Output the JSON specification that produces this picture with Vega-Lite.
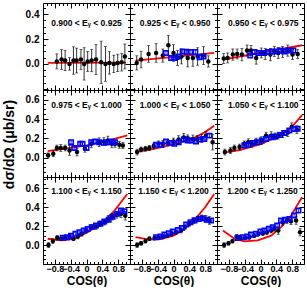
{
"$schema":"https://vega.github.io/schema/vega-lite/v6.json",
"padding":{"left":1,"top":2,"right":0,"bottom":0},
"background":"white",
"data":{"values":[
{"p":0,"s":"f","x":-0.98,"y":0.008},{"p":0,"s":"f","x":1.0,"y":0.01},
{"p":0,"s":"b","x":-0.75,"y":0.02,"e":0.06},{"p":0,"s":"b","x":-0.63,"y":0.035,"e":0.08},{"p":0,"s":"b","x":-0.54,"y":0.027,"e":0.08},{"p":0,"s":"b","x":-0.43,"y":0.0,"e":0.05},{"p":0,"s":"b","x":-0.33,"y":0.027,"e":0.11},{"p":0,"s":"b","x":-0.25,"y":0.027,"e":0.1},{"p":0,"s":"b","x":-0.14,"y":0.035,"e":0.08},{"p":0,"s":"b","x":-0.06,"y":0.0,"e":0.13},{"p":0,"s":"b","x":0.03,"y":0.02,"e":0.08},{"p":0,"s":"b","x":0.13,"y":0.027,"e":0.09},{"p":0,"s":"b","x":0.24,"y":0.035,"e":0.12},{"p":0,"s":"b","x":0.37,"y":0.013,"e":0.17},{"p":0,"s":"b","x":0.48,"y":0.0,"e":0.14},{"p":0,"s":"b","x":0.58,"y":0.008,"e":0.09},{"p":0,"s":"b","x":0.69,"y":0.0,"e":0.07},{"p":0,"s":"b","x":0.79,"y":0.008,"e":0.07},{"p":0,"s":"b","x":0.89,"y":0.013,"e":0.07},{"p":0,"s":"b","x":0.97,"y":0.06,"e":0.1},
{"p":1,"s":"f","x":-0.96,"y":0.027},{"p":1,"s":"f","x":1.03,"y":0.088},
{"p":1,"s":"b","x":-0.93,"y":0.008,"e":0.057},{"p":1,"s":"b","x":-0.82,"y":0.035,"e":0.067},{"p":1,"s":"b","x":-0.63,"y":0.08,"e":0.067},{"p":1,"s":"b","x":-0.44,"y":0.088,"e":0.075},{"p":1,"s":"b","x":-0.27,"y":0.067,"e":0.053},{"p":1,"s":"b","x":-0.13,"y":0.15,"e":0.08},{"p":1,"s":"b","x":0.0,"y":0.088,"e":0.067},{"p":1,"s":"b","x":0.1,"y":0.048,"e":0.06},{"p":1,"s":"b","x":0.2,"y":0.06,"e":0.06},{"p":1,"s":"b","x":0.36,"y":0.048,"e":0.072},{"p":1,"s":"b","x":0.49,"y":0.048,"e":0.067},{"p":1,"s":"b","x":0.61,"y":0.06,"e":0.07},{"p":1,"s":"b","x":0.76,"y":0.067,"e":0.072},{"p":1,"s":"b","x":0.88,"y":0.02,"e":0.045},
{"p":1,"s":"u","x":-0.19,"y":0.088,"e":0.015},{"p":1,"s":"u","x":-0.06,"y":0.048,"e":0.015},{"p":1,"s":"u","x":0.02,"y":0.048,"e":0.015},{"p":1,"s":"u","x":0.12,"y":0.06,"e":0.015},{"p":1,"s":"u","x":0.23,"y":0.1,"e":0.015},{"p":1,"s":"u","x":0.33,"y":0.096,"e":0.015},{"p":1,"s":"u","x":0.44,"y":0.096,"e":0.015},{"p":1,"s":"u","x":0.55,"y":0.096,"e":0.015},{"p":1,"s":"u","x":0.66,"y":0.053,"e":0.015},{"p":1,"s":"u","x":0.76,"y":0.06,"e":0.015},
{"p":2,"s":"f","x":-0.95,"y":0.035},{"p":2,"s":"f","x":1.05,"y":0.15},
{"p":2,"s":"b","x":-0.93,"y":0.043,"e":0.04},{"p":2,"s":"b","x":-0.83,"y":0.048,"e":0.04},{"p":2,"s":"b","x":-0.7,"y":0.075,"e":0.045},{"p":2,"s":"b","x":-0.59,"y":0.08,"e":0.04},{"p":2,"s":"b","x":-0.47,"y":0.075,"e":0.05},{"p":2,"s":"b","x":-0.34,"y":0.107,"e":0.045},{"p":2,"s":"b","x":-0.24,"y":0.107,"e":0.04},{"p":2,"s":"b","x":-0.11,"y":0.048,"e":0.05},{"p":2,"s":"b","x":0.02,"y":0.088,"e":0.04},{"p":2,"s":"b","x":0.12,"y":0.08,"e":0.045},{"p":2,"s":"b","x":0.25,"y":0.075,"e":0.05},{"p":2,"s":"b","x":0.35,"y":0.1,"e":0.04},{"p":2,"s":"b","x":0.45,"y":0.088,"e":0.045},{"p":2,"s":"b","x":0.56,"y":0.096,"e":0.045},{"p":2,"s":"b","x":0.69,"y":0.107,"e":0.045},{"p":2,"s":"b","x":0.81,"y":0.075,"e":0.04},{"p":2,"s":"b","x":0.94,"y":0.08,"e":0.035},
{"p":2,"s":"u","x":-0.26,"y":0.067,"e":0.015},{"p":2,"s":"u","x":-0.15,"y":0.096,"e":0.015},{"p":2,"s":"u","x":-0.05,"y":0.088,"e":0.015},{"p":2,"s":"u","x":0.08,"y":0.088,"e":0.015},{"p":2,"s":"u","x":0.19,"y":0.096,"e":0.015},{"p":2,"s":"u","x":0.29,"y":0.1,"e":0.015},{"p":2,"s":"u","x":0.4,"y":0.1,"e":0.015},{"p":2,"s":"u","x":0.5,"y":0.107,"e":0.015},{"p":2,"s":"u","x":0.6,"y":0.1,"e":0.015},{"p":2,"s":"u","x":0.7,"y":0.107,"e":0.015},{"p":2,"s":"u","x":0.83,"y":0.107,"e":0.015},
{"p":3,"s":"f","x":-0.98,"y":0.068},{"p":3,"s":"f","x":-0.5,"y":0.095},{"p":3,"s":"f","x":0.0,"y":0.128},{"p":3,"s":"f","x":0.5,"y":0.17},{"p":3,"s":"f","x":1.03,"y":0.23},
{"p":3,"s":"b","x":-0.97,"y":0.024,"e":0.025},{"p":3,"s":"b","x":-0.84,"y":0.04,"e":0.03},{"p":3,"s":"b","x":-0.75,"y":0.1,"e":0.03},{"p":3,"s":"b","x":-0.65,"y":0.1,"e":0.035},{"p":3,"s":"b","x":-0.54,"y":0.1,"e":0.03},{"p":3,"s":"b","x":-0.43,"y":0.075,"e":0.05},{"p":3,"s":"b","x":-0.24,"y":0.058,"e":0.04},{"p":3,"s":"b","x":-0.04,"y":0.092,"e":0.035},{"p":3,"s":"b","x":0.12,"y":0.143,"e":0.04},{"p":3,"s":"b","x":0.32,"y":0.16,"e":0.045},{"p":3,"s":"b","x":0.44,"y":0.167,"e":0.04},{"p":3,"s":"b","x":0.54,"y":0.177,"e":0.045},{"p":3,"s":"b","x":0.64,"y":0.143,"e":0.04},{"p":3,"s":"b","x":0.72,"y":0.143,"e":0.035},{"p":3,"s":"b","x":0.83,"y":0.133,"e":0.035},{"p":3,"s":"b","x":0.92,"y":0.126,"e":0.03},
{"p":3,"s":"u","x":-0.39,"y":0.16,"e":0.015},{"p":3,"s":"u","x":-0.31,"y":0.1,"e":0.015},{"p":3,"s":"u","x":-0.16,"y":0.143,"e":0.015},{"p":3,"s":"u","x":-0.1,"y":0.143,"e":0.015},{"p":3,"s":"u","x":0.0,"y":0.1,"e":0.015},{"p":3,"s":"u","x":0.12,"y":0.16,"e":0.015},{"p":3,"s":"u","x":0.22,"y":0.167,"e":0.015},{"p":3,"s":"u","x":0.32,"y":0.16,"e":0.015},{"p":3,"s":"u","x":0.44,"y":0.153,"e":0.015},{"p":3,"s":"u","x":0.54,"y":0.16,"e":0.015},{"p":3,"s":"u","x":0.64,"y":0.167,"e":0.015},{"p":3,"s":"u","x":0.72,"y":0.16,"e":0.015},
{"p":4,"s":"f","x":-0.96,"y":0.058},{"p":4,"s":"f","x":-0.5,"y":0.09},{"p":4,"s":"f","x":0.0,"y":0.138},{"p":4,"s":"f","x":0.5,"y":0.2},{"p":4,"s":"f","x":0.78,"y":0.26},{"p":4,"s":"f","x":1.03,"y":0.33},
{"p":4,"s":"b","x":-0.92,"y":0.058,"e":0.03},{"p":4,"s":"b","x":-0.82,"y":0.085,"e":0.025},{"p":4,"s":"b","x":-0.71,"y":0.092,"e":0.025},{"p":4,"s":"b","x":-0.61,"y":0.1,"e":0.025},{"p":4,"s":"b","x":-0.5,"y":0.12,"e":0.03},{"p":4,"s":"b","x":-0.38,"y":0.143,"e":0.03},{"p":4,"s":"b","x":-0.27,"y":0.143,"e":0.035},{"p":4,"s":"b","x":-0.14,"y":0.153,"e":0.03},{"p":4,"s":"b","x":0.0,"y":0.167,"e":0.035},{"p":4,"s":"b","x":0.13,"y":0.187,"e":0.04},{"p":4,"s":"b","x":0.26,"y":0.21,"e":0.04},{"p":4,"s":"b","x":0.36,"y":0.2,"e":0.035},{"p":4,"s":"b","x":0.49,"y":0.194,"e":0.04},{"p":4,"s":"b","x":0.6,"y":0.187,"e":0.04},{"p":4,"s":"b","x":0.71,"y":0.2,"e":0.04},{"p":4,"s":"b","x":0.82,"y":0.228,"e":0.04},{"p":4,"s":"b","x":0.99,"y":0.16,"e":0.08},
{"p":4,"s":"u","x":-0.44,"y":0.133,"e":0.015},{"p":4,"s":"u","x":-0.31,"y":0.133,"e":0.015},{"p":4,"s":"u","x":-0.19,"y":0.167,"e":0.015},{"p":4,"s":"u","x":-0.08,"y":0.153,"e":0.015},{"p":4,"s":"u","x":0.02,"y":0.143,"e":0.015},{"p":4,"s":"u","x":0.13,"y":0.16,"e":0.015},{"p":4,"s":"u","x":0.26,"y":0.187,"e":0.015},{"p":4,"s":"u","x":0.36,"y":0.177,"e":0.015},{"p":4,"s":"u","x":0.46,"y":0.177,"e":0.015},{"p":4,"s":"u","x":0.57,"y":0.167,"e":0.015},{"p":4,"s":"u","x":0.68,"y":0.187,"e":0.015},{"p":4,"s":"u","x":0.78,"y":0.194,"e":0.015},{"p":4,"s":"u","x":0.91,"y":0.228,"e":0.015},
{"p":5,"s":"f","x":-0.95,"y":0.05},{"p":5,"s":"f","x":-0.5,"y":0.08},{"p":5,"s":"f","x":0.0,"y":0.14},{"p":5,"s":"f","x":0.5,"y":0.23},{"p":5,"s":"f","x":0.78,"y":0.31},{"p":5,"s":"f","x":1.05,"y":0.44},
{"p":5,"s":"b","x":-0.9,"y":0.058,"e":0.03},{"p":5,"s":"b","x":-0.76,"y":0.075,"e":0.03},{"p":5,"s":"b","x":-0.66,"y":0.1,"e":0.03},{"p":5,"s":"b","x":-0.53,"y":0.11,"e":0.03},{"p":5,"s":"b","x":-0.41,"y":0.143,"e":0.03},{"p":5,"s":"b","x":-0.31,"y":0.16,"e":0.035},{"p":5,"s":"b","x":-0.22,"y":0.143,"e":0.035},{"p":5,"s":"b","x":-0.11,"y":0.167,"e":0.035},{"p":5,"s":"b","x":0.02,"y":0.177,"e":0.04},{"p":5,"s":"b","x":0.14,"y":0.228,"e":0.035},{"p":5,"s":"b","x":0.27,"y":0.228,"e":0.04},{"p":5,"s":"b","x":0.37,"y":0.22,"e":0.035},{"p":5,"s":"b","x":0.45,"y":0.228,"e":0.035},{"p":5,"s":"b","x":0.56,"y":0.245,"e":0.035},{"p":5,"s":"b","x":0.69,"y":0.26,"e":0.04},{"p":5,"s":"b","x":0.79,"y":0.32,"e":0.04},{"p":5,"s":"b","x":0.92,"y":0.29,"e":0.04},
{"p":5,"s":"u","x":-0.41,"y":0.126,"e":0.015},{"p":5,"s":"u","x":-0.31,"y":0.133,"e":0.015},{"p":5,"s":"u","x":-0.2,"y":0.153,"e":0.015},{"p":5,"s":"u","x":-0.09,"y":0.16,"e":0.015},{"p":5,"s":"u","x":0.03,"y":0.177,"e":0.015},{"p":5,"s":"u","x":0.14,"y":0.194,"e":0.015},{"p":5,"s":"u","x":0.27,"y":0.21,"e":0.015},{"p":5,"s":"u","x":0.37,"y":0.22,"e":0.015},{"p":5,"s":"u","x":0.5,"y":0.235,"e":0.015},{"p":5,"s":"u","x":0.6,"y":0.255,"e":0.015},{"p":5,"s":"u","x":0.73,"y":0.28,"e":0.015},{"p":5,"s":"u","x":0.84,"y":0.296,"e":0.015},{"p":5,"s":"u","x":0.94,"y":0.3,"e":0.015},
{"p":6,"s":"f","x":-0.98,"y":0.067},{"p":6,"s":"f","x":-0.64,"y":0.05},{"p":6,"s":"f","x":-0.31,"y":0.067},{"p":6,"s":"f","x":0.03,"y":0.137},{"p":6,"s":"f","x":0.37,"y":0.225},{"p":6,"s":"f","x":0.71,"y":0.365},{"p":6,"s":"f","x":1.03,"y":0.54},
{"p":6,"s":"b","x":-0.96,"y":0.0,"e":0.025},{"p":6,"s":"b","x":-0.85,"y":0.042,"e":0.025},{"p":6,"s":"b","x":-0.74,"y":0.077,"e":0.025},{"p":6,"s":"b","x":-0.64,"y":0.067,"e":0.02},{"p":6,"s":"b","x":-0.54,"y":0.074,"e":0.02},{"p":6,"s":"b","x":-0.43,"y":0.091,"e":0.02},{"p":6,"s":"b","x":-0.33,"y":0.067,"e":0.02},{"p":6,"s":"b","x":-0.22,"y":0.091,"e":0.025},{"p":6,"s":"b","x":-0.12,"y":0.12,"e":0.025},{"p":6,"s":"b","x":-0.01,"y":0.154,"e":0.025},{"p":6,"s":"b","x":0.12,"y":0.19,"e":0.025},{"p":6,"s":"b","x":0.24,"y":0.196,"e":0.03},{"p":6,"s":"b","x":0.35,"y":0.225,"e":0.03},{"p":6,"s":"b","x":0.45,"y":0.242,"e":0.03},{"p":6,"s":"b","x":0.55,"y":0.277,"e":0.035},{"p":6,"s":"b","x":0.66,"y":0.3,"e":0.035},{"p":6,"s":"b","x":0.77,"y":0.32,"e":0.035},{"p":6,"s":"b","x":0.87,"y":0.33,"e":0.04},{"p":6,"s":"b","x":0.98,"y":0.31,"e":0.045},
{"p":6,"s":"u","x":-0.6,"y":0.077,"e":0.015},{"p":6,"s":"u","x":-0.49,"y":0.084,"e":0.015},{"p":6,"s":"u","x":-0.39,"y":0.1,"e":0.015},{"p":6,"s":"u","x":-0.28,"y":0.12,"e":0.015},{"p":6,"s":"u","x":-0.18,"y":0.137,"e":0.015},{"p":6,"s":"u","x":-0.07,"y":0.154,"e":0.015},{"p":6,"s":"u","x":0.03,"y":0.17,"e":0.015},{"p":6,"s":"u","x":0.13,"y":0.19,"e":0.015},{"p":6,"s":"u","x":0.24,"y":0.207,"e":0.015},{"p":6,"s":"u","x":0.35,"y":0.225,"e":0.015},{"p":6,"s":"u","x":0.45,"y":0.25,"e":0.015},{"p":6,"s":"u","x":0.56,"y":0.267,"e":0.015},{"p":6,"s":"u","x":0.66,"y":0.3,"e":0.015},{"p":6,"s":"u","x":0.77,"y":0.33,"e":0.015},{"p":6,"s":"u","x":0.87,"y":0.365,"e":0.015},{"p":6,"s":"u","x":0.96,"y":0.358,"e":0.015},
{"p":7,"s":"f","x":-0.96,"y":0.084},{"p":7,"s":"f","x":-0.6,"y":0.058},{"p":7,"s":"f","x":-0.3,"y":0.065},{"p":7,"s":"f","x":0.0,"y":0.1},{"p":7,"s":"f","x":0.2,"y":0.15},{"p":7,"s":"f","x":0.4,"y":0.22},{"p":7,"s":"f","x":0.6,"y":0.3},{"p":7,"s":"f","x":0.8,"y":0.4},{"p":7,"s":"f","x":1.03,"y":0.54},
{"p":7,"s":"b","x":-0.92,"y":0.0,"e":0.025},{"p":7,"s":"b","x":-0.82,"y":0.02,"e":0.02},{"p":7,"s":"b","x":-0.71,"y":0.042,"e":0.02},{"p":7,"s":"b","x":-0.61,"y":0.067,"e":0.02},{"p":7,"s":"b","x":-0.48,"y":0.074,"e":0.02},{"p":7,"s":"b","x":-0.38,"y":0.077,"e":0.02},{"p":7,"s":"b","x":-0.27,"y":0.091,"e":0.02},{"p":7,"s":"b","x":-0.16,"y":0.1,"e":0.02},{"p":7,"s":"b","x":-0.05,"y":0.12,"e":0.025},{"p":7,"s":"b","x":0.06,"y":0.137,"e":0.025},{"p":7,"s":"b","x":0.19,"y":0.154,"e":0.025},{"p":7,"s":"b","x":0.29,"y":0.19,"e":0.025},{"p":7,"s":"b","x":0.4,"y":0.225,"e":0.025},{"p":7,"s":"b","x":0.51,"y":0.26,"e":0.03},{"p":7,"s":"b","x":0.61,"y":0.277,"e":0.03},{"p":7,"s":"b","x":0.71,"y":0.288,"e":0.03},{"p":7,"s":"b","x":0.82,"y":0.277,"e":0.035},{"p":7,"s":"b","x":0.91,"y":0.26,"e":0.04},
{"p":7,"s":"u","x":-0.44,"y":0.084,"e":0.015},{"p":7,"s":"u","x":-0.33,"y":0.091,"e":0.015},{"p":7,"s":"u","x":-0.23,"y":0.112,"e":0.015},{"p":7,"s":"u","x":-0.12,"y":0.126,"e":0.015},{"p":7,"s":"u","x":-0.02,"y":0.144,"e":0.015},{"p":7,"s":"u","x":0.11,"y":0.16,"e":0.015},{"p":7,"s":"u","x":0.21,"y":0.18,"e":0.015},{"p":7,"s":"u","x":0.32,"y":0.218,"e":0.015},{"p":7,"s":"u","x":0.43,"y":0.242,"e":0.015},{"p":7,"s":"u","x":0.53,"y":0.26,"e":0.015},{"p":7,"s":"u","x":0.64,"y":0.277,"e":0.015},{"p":7,"s":"u","x":0.74,"y":0.284,"e":0.015},{"p":7,"s":"u","x":0.84,"y":0.267,"e":0.015},{"p":7,"s":"u","x":0.95,"y":0.26,"e":0.015},
{"p":8,"s":"f","x":-0.95,"y":0.154},{"p":8,"s":"f","x":-0.66,"y":0.067},{"p":8,"s":"f","x":-0.41,"y":0.039},{"p":8,"s":"f","x":-0.07,"y":0.049},{"p":8,"s":"f","x":0.27,"y":0.1},{"p":8,"s":"f","x":0.52,"y":0.19},{"p":8,"s":"f","x":0.77,"y":0.31},{"p":8,"s":"f","x":1.05,"y":0.505},
{"p":8,"s":"b","x":-0.92,"y":0.0,"e":0.025},{"p":8,"s":"b","x":-0.81,"y":0.02,"e":0.02},{"p":8,"s":"b","x":-0.71,"y":0.042,"e":0.02},{"p":8,"s":"b","x":-0.6,"y":0.091,"e":0.02},{"p":8,"s":"b","x":-0.51,"y":0.074,"e":0.02},{"p":8,"s":"b","x":-0.39,"y":0.077,"e":0.02},{"p":8,"s":"b","x":-0.28,"y":0.084,"e":0.02},{"p":8,"s":"b","x":-0.16,"y":0.1,"e":0.02},{"p":8,"s":"b","x":-0.05,"y":0.12,"e":0.02},{"p":8,"s":"b","x":0.06,"y":0.126,"e":0.025},{"p":8,"s":"b","x":0.16,"y":0.137,"e":0.025},{"p":8,"s":"b","x":0.27,"y":0.154,"e":0.025},{"p":8,"s":"b","x":0.35,"y":0.172,"e":0.025},{"p":8,"s":"b","x":0.45,"y":0.154,"e":0.04},{"p":8,"s":"b","x":0.56,"y":0.242,"e":0.03},{"p":8,"s":"b","x":0.67,"y":0.26,"e":0.03},{"p":8,"s":"b","x":0.77,"y":0.253,"e":0.035},{"p":8,"s":"b","x":0.9,"y":0.26,"e":0.04},{"p":8,"s":"b","x":1.0,"y":0.137,"e":0.04},
{"p":8,"s":"u","x":-0.58,"y":0.074,"e":0.015},{"p":8,"s":"u","x":-0.45,"y":0.084,"e":0.015},{"p":8,"s":"u","x":-0.34,"y":0.091,"e":0.015},{"p":8,"s":"u","x":-0.24,"y":0.112,"e":0.015},{"p":8,"s":"u","x":-0.11,"y":0.12,"e":0.015},{"p":8,"s":"u","x":0.0,"y":0.144,"e":0.015},{"p":8,"s":"u","x":0.1,"y":0.154,"e":0.015},{"p":8,"s":"u","x":0.21,"y":0.172,"e":0.015},{"p":8,"s":"u","x":0.31,"y":0.19,"e":0.015},{"p":8,"s":"u","x":0.42,"y":0.207,"e":0.015},{"p":8,"s":"u","x":0.52,"y":0.26,"e":0.015},{"p":8,"s":"u","x":0.62,"y":0.267,"e":0.015},{"p":8,"s":"u","x":0.73,"y":0.277,"e":0.015},{"p":8,"s":"u","x":0.85,"y":0.312,"e":0.015},{"p":8,"s":"u","x":0.96,"y":0.365,"e":0.015}
]},
"columns":3,
"spacing":0,
"bounds":"flush",
"concat":[
{"width":87,"height":87,"transform":[{"filter":"datum.p==0"}],
"layer":[
{"transform":[{"filter":"datum.s=='f'"}],"mark":{"type":"line","color":"#ff0000","strokeWidth":1.8},"encoding":{"x":{"field":"x","type":"quantitative","scale":{"domain":[-1.1,1.1],"nice":false},"axis":{"orient":"bottom","title":null,"labels":false,"values":[-1,-0.9,-0.8,-0.7,-0.6,-0.5,-0.4,-0.3,-0.2,-0.1,0,0.1,0.2,0.3,0.4,0.5,0.6,0.7,0.8,0.9,1],"tickSize":{"condition":{"test":"abs(datum.value*2.5-round(datum.value*2.5))<0.001","value":-5},"value":-2.5}}},"y":{"field":"y","type":"quantitative","scale":{"domain":[-0.21,0.49],"nice":false},"axis":{"orient":"left","title":null,"values":[-0.2,-0.15,-0.1,-0.05,0,0.05,0.1,0.15,0.2,0.25,0.3,0.35,0.4,0.45],"labelExpr":"abs(datum.value*5-round(datum.value*5))<0.001 && datum.value>-0.01 ? format(datum.value,'.1f') : ''","labelPadding":9,"tickSize":{"condition":{"test":"abs(datum.value*5-round(datum.value*5))<0.001","value":-5},"value":-2.5}}}}},
{"transform":[{"filter":"datum.s=='b'"}],"mark":{"type":"errorbar","ticks":true,"size":3,"thickness":0.8,"color":"black"},"encoding":{"x":{"field":"x","type":"quantitative","scale":{"domain":[-1.1,1.1],"nice":false},"axis":null},"y":{"field":"y","type":"quantitative","scale":{"domain":[-0.21,0.49],"nice":false},"axis":null},"yError":{"field":"e"}}},
{"transform":[{"filter":"datum.s=='b'"}],"mark":{"type":"circle","color":"black","size":20,"opacity":1},"encoding":{"x":{"field":"x","type":"quantitative","scale":{"domain":[-1.1,1.1],"nice":false},"axis":{"orient":"top","title":null,"labels":false,"values":[-1,-0.9,-0.8,-0.7,-0.6,-0.5,-0.4,-0.3,-0.2,-0.1,0,0.1,0.2,0.3,0.4,0.5,0.6,0.7,0.8,0.9,1],"tickSize":{"condition":{"test":"abs(datum.value*2.5-round(datum.value*2.5))<0.001","value":-5},"value":-2.5}}},"y":{"field":"y","type":"quantitative","scale":{"domain":[-0.21,0.49],"nice":false},"axis":{"orient":"right","title":null,"labels":false,"values":[-0.2,-0.15,-0.1,-0.05,0,0.05,0.1,0.15,0.2,0.25,0.3,0.35,0.4,0.45],"tickSize":{"condition":{"test":"abs(datum.value*5-round(datum.value*5))<0.001","value":-5},"value":-2.5}}}}},
{"data":{"values":[{"p":0,"t":"0.900 < Eᵧ < 0.925"}]},"mark":{"type":"text","font":"Liberation Sans","fontWeight":"bold","fontSize":8.5,"baseline":"middle","color":"black"},"encoding":{"x":{"datum":0,"type":"quantitative","scale":{"domain":[-1.1,1.1],"nice":false},"axis":null},"y":{"datum":0.33,"type":"quantitative","scale":{"domain":[-0.21,0.49],"nice":false},"axis":null},"text":{"field":"t","type":"nominal"}}}
],"resolve":{"axis":{"x":"independent","y":"independent"}}},
{"width":87,"height":87,"transform":[{"filter":"datum.p==1"}],
"layer":[
{"transform":[{"filter":"datum.s=='f'"}],"mark":{"type":"line","color":"#ff0000","strokeWidth":1.8},"encoding":{"x":{"field":"x","type":"quantitative","scale":{"domain":[-1.1,1.1],"nice":false},"axis":{"orient":"bottom","title":null,"labels":false,"values":[-1,-0.9,-0.8,-0.7,-0.6,-0.5,-0.4,-0.3,-0.2,-0.1,0,0.1,0.2,0.3,0.4,0.5,0.6,0.7,0.8,0.9,1],"tickSize":{"condition":{"test":"abs(datum.value*2.5-round(datum.value*2.5))<0.001","value":-5},"value":-2.5}}},"y":{"field":"y","type":"quantitative","scale":{"domain":[-0.21,0.49],"nice":false},"axis":{"orient":"left","title":null,"labels":false,"values":[-0.2,-0.15,-0.1,-0.05,0,0.05,0.1,0.15,0.2,0.25,0.3,0.35,0.4,0.45],"tickSize":{"condition":{"test":"abs(datum.value*5-round(datum.value*5))<0.001","value":-5},"value":-2.5}}}}},
{"transform":[{"filter":"datum.s=='b'"}],"mark":{"type":"errorbar","ticks":true,"size":3,"thickness":0.8,"color":"black"},"encoding":{"x":{"field":"x","type":"quantitative","scale":{"domain":[-1.1,1.1],"nice":false},"axis":null},"y":{"field":"y","type":"quantitative","scale":{"domain":[-0.21,0.49],"nice":false},"axis":null},"yError":{"field":"e"}}},
{"transform":[{"filter":"datum.s=='b'"}],"mark":{"type":"circle","color":"black","size":20,"opacity":1},"encoding":{"x":{"field":"x","type":"quantitative","scale":{"domain":[-1.1,1.1],"nice":false},"axis":{"orient":"top","title":null,"labels":false,"values":[-1,-0.9,-0.8,-0.7,-0.6,-0.5,-0.4,-0.3,-0.2,-0.1,0,0.1,0.2,0.3,0.4,0.5,0.6,0.7,0.8,0.9,1],"tickSize":{"condition":{"test":"abs(datum.value*2.5-round(datum.value*2.5))<0.001","value":-5},"value":-2.5}}},"y":{"field":"y","type":"quantitative","scale":{"domain":[-0.21,0.49],"nice":false},"axis":{"orient":"right","title":null,"labels":false,"values":[-0.2,-0.15,-0.1,-0.05,0,0.05,0.1,0.15,0.2,0.25,0.3,0.35,0.4,0.45],"tickSize":{"condition":{"test":"abs(datum.value*5-round(datum.value*5))<0.001","value":-5},"value":-2.5}}}}},
{"transform":[{"filter":"datum.s=='u'"}],"mark":{"type":"errorbar","ticks":true,"size":3,"thickness":0.8,"color":"#0000ff"},"encoding":{"x":{"field":"x","type":"quantitative","scale":{"domain":[-1.1,1.1],"nice":false},"axis":null},"y":{"field":"y","type":"quantitative","scale":{"domain":[-0.21,0.49],"nice":false},"axis":null},"yError":{"field":"e"}}},
{"transform":[{"filter":"datum.s=='u'"}],"mark":{"type":"square","filled":false,"color":"#0000ff","strokeWidth":1.5,"size":20,"opacity":1},"encoding":{"x":{"field":"x","type":"quantitative","scale":{"domain":[-1.1,1.1],"nice":false},"axis":null},"y":{"field":"y","type":"quantitative","scale":{"domain":[-0.21,0.49],"nice":false},"axis":null}}},
{"data":{"values":[{"p":1,"t":"0.925 < Eᵧ < 0.950"}]},"mark":{"type":"text","font":"Liberation Sans","fontWeight":"bold","fontSize":8.5,"baseline":"middle","color":"black"},"encoding":{"x":{"datum":0.04,"type":"quantitative","scale":{"domain":[-1.1,1.1],"nice":false},"axis":null},"y":{"datum":0.33,"type":"quantitative","scale":{"domain":[-0.21,0.49],"nice":false},"axis":null},"text":{"field":"t","type":"nominal"}}}
],"resolve":{"axis":{"x":"independent","y":"independent"}}},
{"width":87,"height":87,"transform":[{"filter":"datum.p==2"}],
"layer":[
{"transform":[{"filter":"datum.s=='f'"}],"mark":{"type":"line","color":"#ff0000","strokeWidth":1.8},"encoding":{"x":{"field":"x","type":"quantitative","scale":{"domain":[-1.1,1.1],"nice":false},"axis":{"orient":"bottom","title":null,"labels":false,"values":[-1,-0.9,-0.8,-0.7,-0.6,-0.5,-0.4,-0.3,-0.2,-0.1,0,0.1,0.2,0.3,0.4,0.5,0.6,0.7,0.8,0.9,1],"tickSize":{"condition":{"test":"abs(datum.value*2.5-round(datum.value*2.5))<0.001","value":-5},"value":-2.5}}},"y":{"field":"y","type":"quantitative","scale":{"domain":[-0.21,0.49],"nice":false},"axis":{"orient":"left","title":null,"labels":false,"values":[-0.2,-0.15,-0.1,-0.05,0,0.05,0.1,0.15,0.2,0.25,0.3,0.35,0.4,0.45],"tickSize":{"condition":{"test":"abs(datum.value*5-round(datum.value*5))<0.001","value":-5},"value":-2.5}}}}},
{"transform":[{"filter":"datum.s=='b'"}],"mark":{"type":"errorbar","ticks":true,"size":3,"thickness":0.8,"color":"black"},"encoding":{"x":{"field":"x","type":"quantitative","scale":{"domain":[-1.1,1.1],"nice":false},"axis":null},"y":{"field":"y","type":"quantitative","scale":{"domain":[-0.21,0.49],"nice":false},"axis":null},"yError":{"field":"e"}}},
{"transform":[{"filter":"datum.s=='b'"}],"mark":{"type":"circle","color":"black","size":20,"opacity":1},"encoding":{"x":{"field":"x","type":"quantitative","scale":{"domain":[-1.1,1.1],"nice":false},"axis":{"orient":"top","title":null,"labels":false,"values":[-1,-0.9,-0.8,-0.7,-0.6,-0.5,-0.4,-0.3,-0.2,-0.1,0,0.1,0.2,0.3,0.4,0.5,0.6,0.7,0.8,0.9,1],"tickSize":{"condition":{"test":"abs(datum.value*2.5-round(datum.value*2.5))<0.001","value":-5},"value":-2.5}}},"y":{"field":"y","type":"quantitative","scale":{"domain":[-0.21,0.49],"nice":false},"axis":{"orient":"right","title":null,"labels":false,"values":[-0.2,-0.15,-0.1,-0.05,0,0.05,0.1,0.15,0.2,0.25,0.3,0.35,0.4,0.45],"tickSize":{"condition":{"test":"abs(datum.value*5-round(datum.value*5))<0.001","value":-5},"value":-2.5}}}}},
{"transform":[{"filter":"datum.s=='u'"}],"mark":{"type":"errorbar","ticks":true,"size":3,"thickness":0.8,"color":"#0000ff"},"encoding":{"x":{"field":"x","type":"quantitative","scale":{"domain":[-1.1,1.1],"nice":false},"axis":null},"y":{"field":"y","type":"quantitative","scale":{"domain":[-0.21,0.49],"nice":false},"axis":null},"yError":{"field":"e"}}},
{"transform":[{"filter":"datum.s=='u'"}],"mark":{"type":"square","filled":false,"color":"#0000ff","strokeWidth":1.5,"size":20,"opacity":1},"encoding":{"x":{"field":"x","type":"quantitative","scale":{"domain":[-1.1,1.1],"nice":false},"axis":null},"y":{"field":"y","type":"quantitative","scale":{"domain":[-0.21,0.49],"nice":false},"axis":null}}},
{"data":{"values":[{"p":2,"t":"0.950 < Eᵧ < 0.975"}]},"mark":{"type":"text","font":"Liberation Sans","fontWeight":"bold","fontSize":8.5,"baseline":"middle","color":"black"},"encoding":{"x":{"datum":0.07,"type":"quantitative","scale":{"domain":[-1.1,1.1],"nice":false},"axis":null},"y":{"datum":0.33,"type":"quantitative","scale":{"domain":[-0.21,0.49],"nice":false},"axis":null},"text":{"field":"t","type":"nominal"}}}
],"resolve":{"axis":{"x":"independent","y":"independent"}}},
{"width":87,"height":87,"transform":[{"filter":"datum.p==3"}],
"layer":[
{"transform":[{"filter":"datum.s=='f'"}],"mark":{"type":"line","color":"#ff0000","strokeWidth":1.8},"encoding":{"x":{"field":"x","type":"quantitative","scale":{"domain":[-1.1,1.1],"nice":false},"axis":{"orient":"bottom","title":null,"labels":false,"values":[-1,-0.9,-0.8,-0.7,-0.6,-0.5,-0.4,-0.3,-0.2,-0.1,0,0.1,0.2,0.3,0.4,0.5,0.6,0.7,0.8,0.9,1],"tickSize":{"condition":{"test":"abs(datum.value*2.5-round(datum.value*2.5))<0.001","value":-5},"value":-2.5}}},"y":{"field":"y","type":"quantitative","scale":{"domain":[-0.2,0.7],"nice":false},"axis":{"orient":"left","title":"dσ/dΩ (μb/sr)","titleX":-34,"titleY":54,"titleBaseline":"middle","titleFontSize":14,"values":[-0.2,-0.15,-0.1,-0.05,0,0.05,0.1,0.15,0.2,0.25,0.3,0.35,0.4,0.45,0.5,0.55,0.6,0.65],"labelExpr":"abs(datum.value*5-round(datum.value*5))<0.001 && datum.value>-0.01 ? format(datum.value,'.1f') : ''","labelPadding":9,"tickSize":{"condition":{"test":"abs(datum.value*5-round(datum.value*5))<0.001","value":-5},"value":-2.5}}}}},
{"transform":[{"filter":"datum.s=='b'"}],"mark":{"type":"errorbar","ticks":true,"size":3,"thickness":0.8,"color":"black"},"encoding":{"x":{"field":"x","type":"quantitative","scale":{"domain":[-1.1,1.1],"nice":false},"axis":null},"y":{"field":"y","type":"quantitative","scale":{"domain":[-0.2,0.7],"nice":false},"axis":null},"yError":{"field":"e"}}},
{"transform":[{"filter":"datum.s=='b'"}],"mark":{"type":"circle","color":"black","size":20,"opacity":1},"encoding":{"x":{"field":"x","type":"quantitative","scale":{"domain":[-1.1,1.1],"nice":false},"axis":{"orient":"top","title":null,"labels":false,"values":[-1,-0.9,-0.8,-0.7,-0.6,-0.5,-0.4,-0.3,-0.2,-0.1,0,0.1,0.2,0.3,0.4,0.5,0.6,0.7,0.8,0.9,1],"tickSize":{"condition":{"test":"abs(datum.value*2.5-round(datum.value*2.5))<0.001","value":-5},"value":-2.5}}},"y":{"field":"y","type":"quantitative","scale":{"domain":[-0.2,0.7],"nice":false},"axis":{"orient":"right","title":null,"labels":false,"values":[-0.2,-0.15,-0.1,-0.05,0,0.05,0.1,0.15,0.2,0.25,0.3,0.35,0.4,0.45,0.5,0.55,0.6,0.65],"tickSize":{"condition":{"test":"abs(datum.value*5-round(datum.value*5))<0.001","value":-5},"value":-2.5}}}}},
{"transform":[{"filter":"datum.s=='u'"}],"mark":{"type":"errorbar","ticks":true,"size":3,"thickness":0.8,"color":"#0000ff"},"encoding":{"x":{"field":"x","type":"quantitative","scale":{"domain":[-1.1,1.1],"nice":false},"axis":null},"y":{"field":"y","type":"quantitative","scale":{"domain":[-0.2,0.7],"nice":false},"axis":null},"yError":{"field":"e"}}},
{"transform":[{"filter":"datum.s=='u'"}],"mark":{"type":"square","filled":false,"color":"#0000ff","strokeWidth":1.5,"size":20,"opacity":1},"encoding":{"x":{"field":"x","type":"quantitative","scale":{"domain":[-1.1,1.1],"nice":false},"axis":null},"y":{"field":"y","type":"quantitative","scale":{"domain":[-0.2,0.7],"nice":false},"axis":null}}},
{"data":{"values":[{"p":3,"t":"0.975 < Eᵧ < 1.000"}]},"mark":{"type":"text","font":"Liberation Sans","fontWeight":"bold","fontSize":8.5,"baseline":"middle","color":"black"},"encoding":{"x":{"datum":0,"type":"quantitative","scale":{"domain":[-1.1,1.1],"nice":false},"axis":null},"y":{"datum":0.544,"type":"quantitative","scale":{"domain":[-0.2,0.7],"nice":false},"axis":null},"text":{"field":"t","type":"nominal"}}}
],"resolve":{"axis":{"x":"independent","y":"independent"}}},
{"width":87,"height":87,"transform":[{"filter":"datum.p==4"}],
"layer":[
{"transform":[{"filter":"datum.s=='f'"}],"mark":{"type":"line","color":"#ff0000","strokeWidth":1.8},"encoding":{"x":{"field":"x","type":"quantitative","scale":{"domain":[-1.1,1.1],"nice":false},"axis":{"orient":"bottom","title":null,"labels":false,"values":[-1,-0.9,-0.8,-0.7,-0.6,-0.5,-0.4,-0.3,-0.2,-0.1,0,0.1,0.2,0.3,0.4,0.5,0.6,0.7,0.8,0.9,1],"tickSize":{"condition":{"test":"abs(datum.value*2.5-round(datum.value*2.5))<0.001","value":-5},"value":-2.5}}},"y":{"field":"y","type":"quantitative","scale":{"domain":[-0.2,0.7],"nice":false},"axis":{"orient":"left","title":null,"labels":false,"values":[-0.2,-0.15,-0.1,-0.05,0,0.05,0.1,0.15,0.2,0.25,0.3,0.35,0.4,0.45,0.5,0.55,0.6,0.65],"tickSize":{"condition":{"test":"abs(datum.value*5-round(datum.value*5))<0.001","value":-5},"value":-2.5}}}}},
{"transform":[{"filter":"datum.s=='b'"}],"mark":{"type":"errorbar","ticks":true,"size":3,"thickness":0.8,"color":"black"},"encoding":{"x":{"field":"x","type":"quantitative","scale":{"domain":[-1.1,1.1],"nice":false},"axis":null},"y":{"field":"y","type":"quantitative","scale":{"domain":[-0.2,0.7],"nice":false},"axis":null},"yError":{"field":"e"}}},
{"transform":[{"filter":"datum.s=='b'"}],"mark":{"type":"circle","color":"black","size":20,"opacity":1},"encoding":{"x":{"field":"x","type":"quantitative","scale":{"domain":[-1.1,1.1],"nice":false},"axis":{"orient":"top","title":null,"labels":false,"values":[-1,-0.9,-0.8,-0.7,-0.6,-0.5,-0.4,-0.3,-0.2,-0.1,0,0.1,0.2,0.3,0.4,0.5,0.6,0.7,0.8,0.9,1],"tickSize":{"condition":{"test":"abs(datum.value*2.5-round(datum.value*2.5))<0.001","value":-5},"value":-2.5}}},"y":{"field":"y","type":"quantitative","scale":{"domain":[-0.2,0.7],"nice":false},"axis":{"orient":"right","title":null,"labels":false,"values":[-0.2,-0.15,-0.1,-0.05,0,0.05,0.1,0.15,0.2,0.25,0.3,0.35,0.4,0.45,0.5,0.55,0.6,0.65],"tickSize":{"condition":{"test":"abs(datum.value*5-round(datum.value*5))<0.001","value":-5},"value":-2.5}}}}},
{"transform":[{"filter":"datum.s=='u'"}],"mark":{"type":"errorbar","ticks":true,"size":3,"thickness":0.8,"color":"#0000ff"},"encoding":{"x":{"field":"x","type":"quantitative","scale":{"domain":[-1.1,1.1],"nice":false},"axis":null},"y":{"field":"y","type":"quantitative","scale":{"domain":[-0.2,0.7],"nice":false},"axis":null},"yError":{"field":"e"}}},
{"transform":[{"filter":"datum.s=='u'"}],"mark":{"type":"square","filled":false,"color":"#0000ff","strokeWidth":1.5,"size":20,"opacity":1},"encoding":{"x":{"field":"x","type":"quantitative","scale":{"domain":[-1.1,1.1],"nice":false},"axis":null},"y":{"field":"y","type":"quantitative","scale":{"domain":[-0.2,0.7],"nice":false},"axis":null}}},
{"data":{"values":[{"p":4,"t":"1.000 < Eᵧ < 1.050"}]},"mark":{"type":"text","font":"Liberation Sans","fontWeight":"bold","fontSize":8.5,"baseline":"middle","color":"black"},"encoding":{"x":{"datum":0.04,"type":"quantitative","scale":{"domain":[-1.1,1.1],"nice":false},"axis":null},"y":{"datum":0.544,"type":"quantitative","scale":{"domain":[-0.2,0.7],"nice":false},"axis":null},"text":{"field":"t","type":"nominal"}}}
],"resolve":{"axis":{"x":"independent","y":"independent"}}},
{"width":87,"height":87,"transform":[{"filter":"datum.p==5"}],
"layer":[
{"transform":[{"filter":"datum.s=='f'"}],"mark":{"type":"line","color":"#ff0000","strokeWidth":1.8},"encoding":{"x":{"field":"x","type":"quantitative","scale":{"domain":[-1.1,1.1],"nice":false},"axis":{"orient":"bottom","title":null,"labels":false,"values":[-1,-0.9,-0.8,-0.7,-0.6,-0.5,-0.4,-0.3,-0.2,-0.1,0,0.1,0.2,0.3,0.4,0.5,0.6,0.7,0.8,0.9,1],"tickSize":{"condition":{"test":"abs(datum.value*2.5-round(datum.value*2.5))<0.001","value":-5},"value":-2.5}}},"y":{"field":"y","type":"quantitative","scale":{"domain":[-0.2,0.7],"nice":false},"axis":{"orient":"left","title":null,"labels":false,"values":[-0.2,-0.15,-0.1,-0.05,0,0.05,0.1,0.15,0.2,0.25,0.3,0.35,0.4,0.45,0.5,0.55,0.6,0.65],"tickSize":{"condition":{"test":"abs(datum.value*5-round(datum.value*5))<0.001","value":-5},"value":-2.5}}}}},
{"transform":[{"filter":"datum.s=='b'"}],"mark":{"type":"errorbar","ticks":true,"size":3,"thickness":0.8,"color":"black"},"encoding":{"x":{"field":"x","type":"quantitative","scale":{"domain":[-1.1,1.1],"nice":false},"axis":null},"y":{"field":"y","type":"quantitative","scale":{"domain":[-0.2,0.7],"nice":false},"axis":null},"yError":{"field":"e"}}},
{"transform":[{"filter":"datum.s=='b'"}],"mark":{"type":"circle","color":"black","size":20,"opacity":1},"encoding":{"x":{"field":"x","type":"quantitative","scale":{"domain":[-1.1,1.1],"nice":false},"axis":{"orient":"top","title":null,"labels":false,"values":[-1,-0.9,-0.8,-0.7,-0.6,-0.5,-0.4,-0.3,-0.2,-0.1,0,0.1,0.2,0.3,0.4,0.5,0.6,0.7,0.8,0.9,1],"tickSize":{"condition":{"test":"abs(datum.value*2.5-round(datum.value*2.5))<0.001","value":-5},"value":-2.5}}},"y":{"field":"y","type":"quantitative","scale":{"domain":[-0.2,0.7],"nice":false},"axis":{"orient":"right","title":null,"labels":false,"values":[-0.2,-0.15,-0.1,-0.05,0,0.05,0.1,0.15,0.2,0.25,0.3,0.35,0.4,0.45,0.5,0.55,0.6,0.65],"tickSize":{"condition":{"test":"abs(datum.value*5-round(datum.value*5))<0.001","value":-5},"value":-2.5}}}}},
{"transform":[{"filter":"datum.s=='u'"}],"mark":{"type":"errorbar","ticks":true,"size":3,"thickness":0.8,"color":"#0000ff"},"encoding":{"x":{"field":"x","type":"quantitative","scale":{"domain":[-1.1,1.1],"nice":false},"axis":null},"y":{"field":"y","type":"quantitative","scale":{"domain":[-0.2,0.7],"nice":false},"axis":null},"yError":{"field":"e"}}},
{"transform":[{"filter":"datum.s=='u'"}],"mark":{"type":"square","filled":false,"color":"#0000ff","strokeWidth":1.5,"size":20,"opacity":1},"encoding":{"x":{"field":"x","type":"quantitative","scale":{"domain":[-1.1,1.1],"nice":false},"axis":null},"y":{"field":"y","type":"quantitative","scale":{"domain":[-0.2,0.7],"nice":false},"axis":null}}},
{"data":{"values":[{"p":5,"t":"1.050 < Eᵧ < 1.100"}]},"mark":{"type":"text","font":"Liberation Sans","fontWeight":"bold","fontSize":8.5,"baseline":"middle","color":"black"},"encoding":{"x":{"datum":0.07,"type":"quantitative","scale":{"domain":[-1.1,1.1],"nice":false},"axis":null},"y":{"datum":0.544,"type":"quantitative","scale":{"domain":[-0.2,0.7],"nice":false},"axis":null},"text":{"field":"t","type":"nominal"}}}
],"resolve":{"axis":{"x":"independent","y":"independent"}}},
{"width":87,"height":87,"transform":[{"filter":"datum.p==6"}],
"layer":[
{"transform":[{"filter":"datum.s=='f'"}],"mark":{"type":"line","color":"#ff0000","strokeWidth":1.8},"encoding":{"x":{"field":"x","type":"quantitative","scale":{"domain":[-1.1,1.1],"nice":false},"axis":{"orient":"bottom","title":"COS(θ)","titleFontSize":12,"titlePadding":0,"values":[-1,-0.9,-0.8,-0.7,-0.6,-0.5,-0.4,-0.3,-0.2,-0.1,0,0.1,0.2,0.3,0.4,0.5,0.6,0.7,0.8,0.9,1],"labelExpr":"abs(datum.value*2.5-round(datum.value*2.5))<0.001 ? (abs(datum.value)<0.001 ? '0' : format(datum.value,'.1f')) : ''","labelFontSize":9,"labelPadding":5,"tickSize":{"condition":{"test":"abs(datum.value*2.5-round(datum.value*2.5))<0.001","value":-5},"value":-2.5}}},"y":{"field":"y","type":"quantitative","scale":{"domain":[-0.2,0.72],"nice":false},"axis":{"orient":"left","title":null,"values":[-0.2,-0.15,-0.1,-0.05,0,0.05,0.1,0.15,0.2,0.25,0.3,0.35,0.4,0.45,0.5,0.55,0.6,0.65,0.7],"labelExpr":"abs(datum.value*5-round(datum.value*5))<0.001 && datum.value>-0.01 ? format(datum.value,'.1f') : ''","labelPadding":9,"tickSize":{"condition":{"test":"abs(datum.value*5-round(datum.value*5))<0.001","value":-5},"value":-2.5}}}}},
{"transform":[{"filter":"datum.s=='b'"}],"mark":{"type":"errorbar","ticks":true,"size":3,"thickness":0.8,"color":"black"},"encoding":{"x":{"field":"x","type":"quantitative","scale":{"domain":[-1.1,1.1],"nice":false},"axis":null},"y":{"field":"y","type":"quantitative","scale":{"domain":[-0.2,0.72],"nice":false},"axis":null},"yError":{"field":"e"}}},
{"transform":[{"filter":"datum.s=='b'"}],"mark":{"type":"circle","color":"black","size":20,"opacity":1},"encoding":{"x":{"field":"x","type":"quantitative","scale":{"domain":[-1.1,1.1],"nice":false},"axis":{"orient":"top","title":null,"labels":false,"values":[-1,-0.9,-0.8,-0.7,-0.6,-0.5,-0.4,-0.3,-0.2,-0.1,0,0.1,0.2,0.3,0.4,0.5,0.6,0.7,0.8,0.9,1],"tickSize":{"condition":{"test":"abs(datum.value*2.5-round(datum.value*2.5))<0.001","value":-5},"value":-2.5}}},"y":{"field":"y","type":"quantitative","scale":{"domain":[-0.2,0.72],"nice":false},"axis":{"orient":"right","title":null,"labels":false,"values":[-0.2,-0.15,-0.1,-0.05,0,0.05,0.1,0.15,0.2,0.25,0.3,0.35,0.4,0.45,0.5,0.55,0.6,0.65,0.7],"tickSize":{"condition":{"test":"abs(datum.value*5-round(datum.value*5))<0.001","value":-5},"value":-2.5}}}}},
{"transform":[{"filter":"datum.s=='u'"}],"mark":{"type":"errorbar","ticks":true,"size":3,"thickness":0.8,"color":"#0000ff"},"encoding":{"x":{"field":"x","type":"quantitative","scale":{"domain":[-1.1,1.1],"nice":false},"axis":null},"y":{"field":"y","type":"quantitative","scale":{"domain":[-0.2,0.72],"nice":false},"axis":null},"yError":{"field":"e"}}},
{"transform":[{"filter":"datum.s=='u'"}],"mark":{"type":"square","filled":false,"color":"#0000ff","strokeWidth":1.5,"size":20,"opacity":1},"encoding":{"x":{"field":"x","type":"quantitative","scale":{"domain":[-1.1,1.1],"nice":false},"axis":null},"y":{"field":"y","type":"quantitative","scale":{"domain":[-0.2,0.72],"nice":false},"axis":null}}},
{"data":{"values":[{"p":6,"t":"1.100 < Eᵧ < 1.150"}]},"mark":{"type":"text","font":"Liberation Sans","fontWeight":"bold","fontSize":8.5,"baseline":"middle","color":"black"},"encoding":{"x":{"datum":0,"type":"quantitative","scale":{"domain":[-1.1,1.1],"nice":false},"axis":null},"y":{"datum":0.57,"type":"quantitative","scale":{"domain":[-0.2,0.72],"nice":false},"axis":null},"text":{"field":"t","type":"nominal"}}}
],"resolve":{"axis":{"x":"independent","y":"independent"}}},
{"width":87,"height":87,"transform":[{"filter":"datum.p==7"}],
"layer":[
{"transform":[{"filter":"datum.s=='f'"}],"mark":{"type":"line","color":"#ff0000","strokeWidth":1.8},"encoding":{"x":{"field":"x","type":"quantitative","scale":{"domain":[-1.1,1.1],"nice":false},"axis":{"orient":"bottom","title":"COS(θ)","titleFontSize":12,"titlePadding":0,"values":[-1,-0.9,-0.8,-0.7,-0.6,-0.5,-0.4,-0.3,-0.2,-0.1,0,0.1,0.2,0.3,0.4,0.5,0.6,0.7,0.8,0.9,1],"labelExpr":"abs(datum.value*2.5-round(datum.value*2.5))<0.001 ? (abs(datum.value)<0.001 ? '0' : format(datum.value,'.1f')) : ''","labelFontSize":9,"labelPadding":5,"tickSize":{"condition":{"test":"abs(datum.value*2.5-round(datum.value*2.5))<0.001","value":-5},"value":-2.5}}},"y":{"field":"y","type":"quantitative","scale":{"domain":[-0.2,0.72],"nice":false},"axis":{"orient":"left","title":null,"labels":false,"values":[-0.2,-0.15,-0.1,-0.05,0,0.05,0.1,0.15,0.2,0.25,0.3,0.35,0.4,0.45,0.5,0.55,0.6,0.65,0.7],"tickSize":{"condition":{"test":"abs(datum.value*5-round(datum.value*5))<0.001","value":-5},"value":-2.5}}}}},
{"transform":[{"filter":"datum.s=='b'"}],"mark":{"type":"errorbar","ticks":true,"size":3,"thickness":0.8,"color":"black"},"encoding":{"x":{"field":"x","type":"quantitative","scale":{"domain":[-1.1,1.1],"nice":false},"axis":null},"y":{"field":"y","type":"quantitative","scale":{"domain":[-0.2,0.72],"nice":false},"axis":null},"yError":{"field":"e"}}},
{"transform":[{"filter":"datum.s=='b'"}],"mark":{"type":"circle","color":"black","size":20,"opacity":1},"encoding":{"x":{"field":"x","type":"quantitative","scale":{"domain":[-1.1,1.1],"nice":false},"axis":{"orient":"top","title":null,"labels":false,"values":[-1,-0.9,-0.8,-0.7,-0.6,-0.5,-0.4,-0.3,-0.2,-0.1,0,0.1,0.2,0.3,0.4,0.5,0.6,0.7,0.8,0.9,1],"tickSize":{"condition":{"test":"abs(datum.value*2.5-round(datum.value*2.5))<0.001","value":-5},"value":-2.5}}},"y":{"field":"y","type":"quantitative","scale":{"domain":[-0.2,0.72],"nice":false},"axis":{"orient":"right","title":null,"labels":false,"values":[-0.2,-0.15,-0.1,-0.05,0,0.05,0.1,0.15,0.2,0.25,0.3,0.35,0.4,0.45,0.5,0.55,0.6,0.65,0.7],"tickSize":{"condition":{"test":"abs(datum.value*5-round(datum.value*5))<0.001","value":-5},"value":-2.5}}}}},
{"transform":[{"filter":"datum.s=='u'"}],"mark":{"type":"errorbar","ticks":true,"size":3,"thickness":0.8,"color":"#0000ff"},"encoding":{"x":{"field":"x","type":"quantitative","scale":{"domain":[-1.1,1.1],"nice":false},"axis":null},"y":{"field":"y","type":"quantitative","scale":{"domain":[-0.2,0.72],"nice":false},"axis":null},"yError":{"field":"e"}}},
{"transform":[{"filter":"datum.s=='u'"}],"mark":{"type":"square","filled":false,"color":"#0000ff","strokeWidth":1.5,"size":20,"opacity":1},"encoding":{"x":{"field":"x","type":"quantitative","scale":{"domain":[-1.1,1.1],"nice":false},"axis":null},"y":{"field":"y","type":"quantitative","scale":{"domain":[-0.2,0.72],"nice":false},"axis":null}}},
{"data":{"values":[{"p":7,"t":"1.150 < Eᵧ < 1.200"}]},"mark":{"type":"text","font":"Liberation Sans","fontWeight":"bold","fontSize":8.5,"baseline":"middle","color":"black"},"encoding":{"x":{"datum":0,"type":"quantitative","scale":{"domain":[-1.1,1.1],"nice":false},"axis":null},"y":{"datum":0.57,"type":"quantitative","scale":{"domain":[-0.2,0.72],"nice":false},"axis":null},"text":{"field":"t","type":"nominal"}}}
],"resolve":{"axis":{"x":"independent","y":"independent"}}},
{"width":87,"height":87,"transform":[{"filter":"datum.p==8"}],
"layer":[
{"transform":[{"filter":"datum.s=='f'"}],"mark":{"type":"line","color":"#ff0000","strokeWidth":1.8},"encoding":{"x":{"field":"x","type":"quantitative","scale":{"domain":[-1.1,1.1],"nice":false},"axis":{"orient":"bottom","title":"COS(θ)","titleFontSize":12,"titlePadding":0,"values":[-1,-0.9,-0.8,-0.7,-0.6,-0.5,-0.4,-0.3,-0.2,-0.1,0,0.1,0.2,0.3,0.4,0.5,0.6,0.7,0.8,0.9,1],"labelExpr":"abs(datum.value*2.5-round(datum.value*2.5))<0.001 ? (abs(datum.value)<0.001 ? '0' : format(datum.value,'.1f')) : ''","labelFontSize":9,"labelPadding":5,"tickSize":{"condition":{"test":"abs(datum.value*2.5-round(datum.value*2.5))<0.001","value":-5},"value":-2.5}}},"y":{"field":"y","type":"quantitative","scale":{"domain":[-0.2,0.72],"nice":false},"axis":{"orient":"left","title":null,"labels":false,"values":[-0.2,-0.15,-0.1,-0.05,0,0.05,0.1,0.15,0.2,0.25,0.3,0.35,0.4,0.45,0.5,0.55,0.6,0.65,0.7],"tickSize":{"condition":{"test":"abs(datum.value*5-round(datum.value*5))<0.001","value":-5},"value":-2.5}}}}},
{"transform":[{"filter":"datum.s=='b'"}],"mark":{"type":"errorbar","ticks":true,"size":3,"thickness":0.8,"color":"black"},"encoding":{"x":{"field":"x","type":"quantitative","scale":{"domain":[-1.1,1.1],"nice":false},"axis":null},"y":{"field":"y","type":"quantitative","scale":{"domain":[-0.2,0.72],"nice":false},"axis":null},"yError":{"field":"e"}}},
{"transform":[{"filter":"datum.s=='b'"}],"mark":{"type":"circle","color":"black","size":20,"opacity":1},"encoding":{"x":{"field":"x","type":"quantitative","scale":{"domain":[-1.1,1.1],"nice":false},"axis":{"orient":"top","title":null,"labels":false,"values":[-1,-0.9,-0.8,-0.7,-0.6,-0.5,-0.4,-0.3,-0.2,-0.1,0,0.1,0.2,0.3,0.4,0.5,0.6,0.7,0.8,0.9,1],"tickSize":{"condition":{"test":"abs(datum.value*2.5-round(datum.value*2.5))<0.001","value":-5},"value":-2.5}}},"y":{"field":"y","type":"quantitative","scale":{"domain":[-0.2,0.72],"nice":false},"axis":{"orient":"right","title":null,"labels":false,"values":[-0.2,-0.15,-0.1,-0.05,0,0.05,0.1,0.15,0.2,0.25,0.3,0.35,0.4,0.45,0.5,0.55,0.6,0.65,0.7],"tickSize":{"condition":{"test":"abs(datum.value*5-round(datum.value*5))<0.001","value":-5},"value":-2.5}}}}},
{"transform":[{"filter":"datum.s=='u'"}],"mark":{"type":"errorbar","ticks":true,"size":3,"thickness":0.8,"color":"#0000ff"},"encoding":{"x":{"field":"x","type":"quantitative","scale":{"domain":[-1.1,1.1],"nice":false},"axis":null},"y":{"field":"y","type":"quantitative","scale":{"domain":[-0.2,0.72],"nice":false},"axis":null},"yError":{"field":"e"}}},
{"transform":[{"filter":"datum.s=='u'"}],"mark":{"type":"square","filled":false,"color":"#0000ff","strokeWidth":1.5,"size":20,"opacity":1},"encoding":{"x":{"field":"x","type":"quantitative","scale":{"domain":[-1.1,1.1],"nice":false},"axis":null},"y":{"field":"y","type":"quantitative","scale":{"domain":[-0.2,0.72],"nice":false},"axis":null}}},
{"data":{"values":[{"p":8,"t":"1.200 < Eᵧ < 1.250"}]},"mark":{"type":"text","font":"Liberation Sans","fontWeight":"bold","fontSize":8.5,"baseline":"middle","color":"black"},"encoding":{"x":{"datum":0.05,"type":"quantitative","scale":{"domain":[-1.1,1.1],"nice":false},"axis":null},"y":{"datum":0.57,"type":"quantitative","scale":{"domain":[-0.2,0.72],"nice":false},"axis":null},"text":{"field":"t","type":"nominal"}}}
],"resolve":{"axis":{"x":"independent","y":"independent"}}}
],
"config":{
"view":{"stroke":"black","strokeWidth":1},
"axis":{"labelFont":"Liberation Sans","labelFontWeight":"bold","labelFontSize":10,"labelColor":"black","titleFont":"Liberation Sans","titleFontWeight":"bold","titleColor":"black","domain":false,"grid":false,"tickColor":"black","tickWidth":1,"labelOverlap":false,"labelFlush":false,"labelBound":false}
}
}
